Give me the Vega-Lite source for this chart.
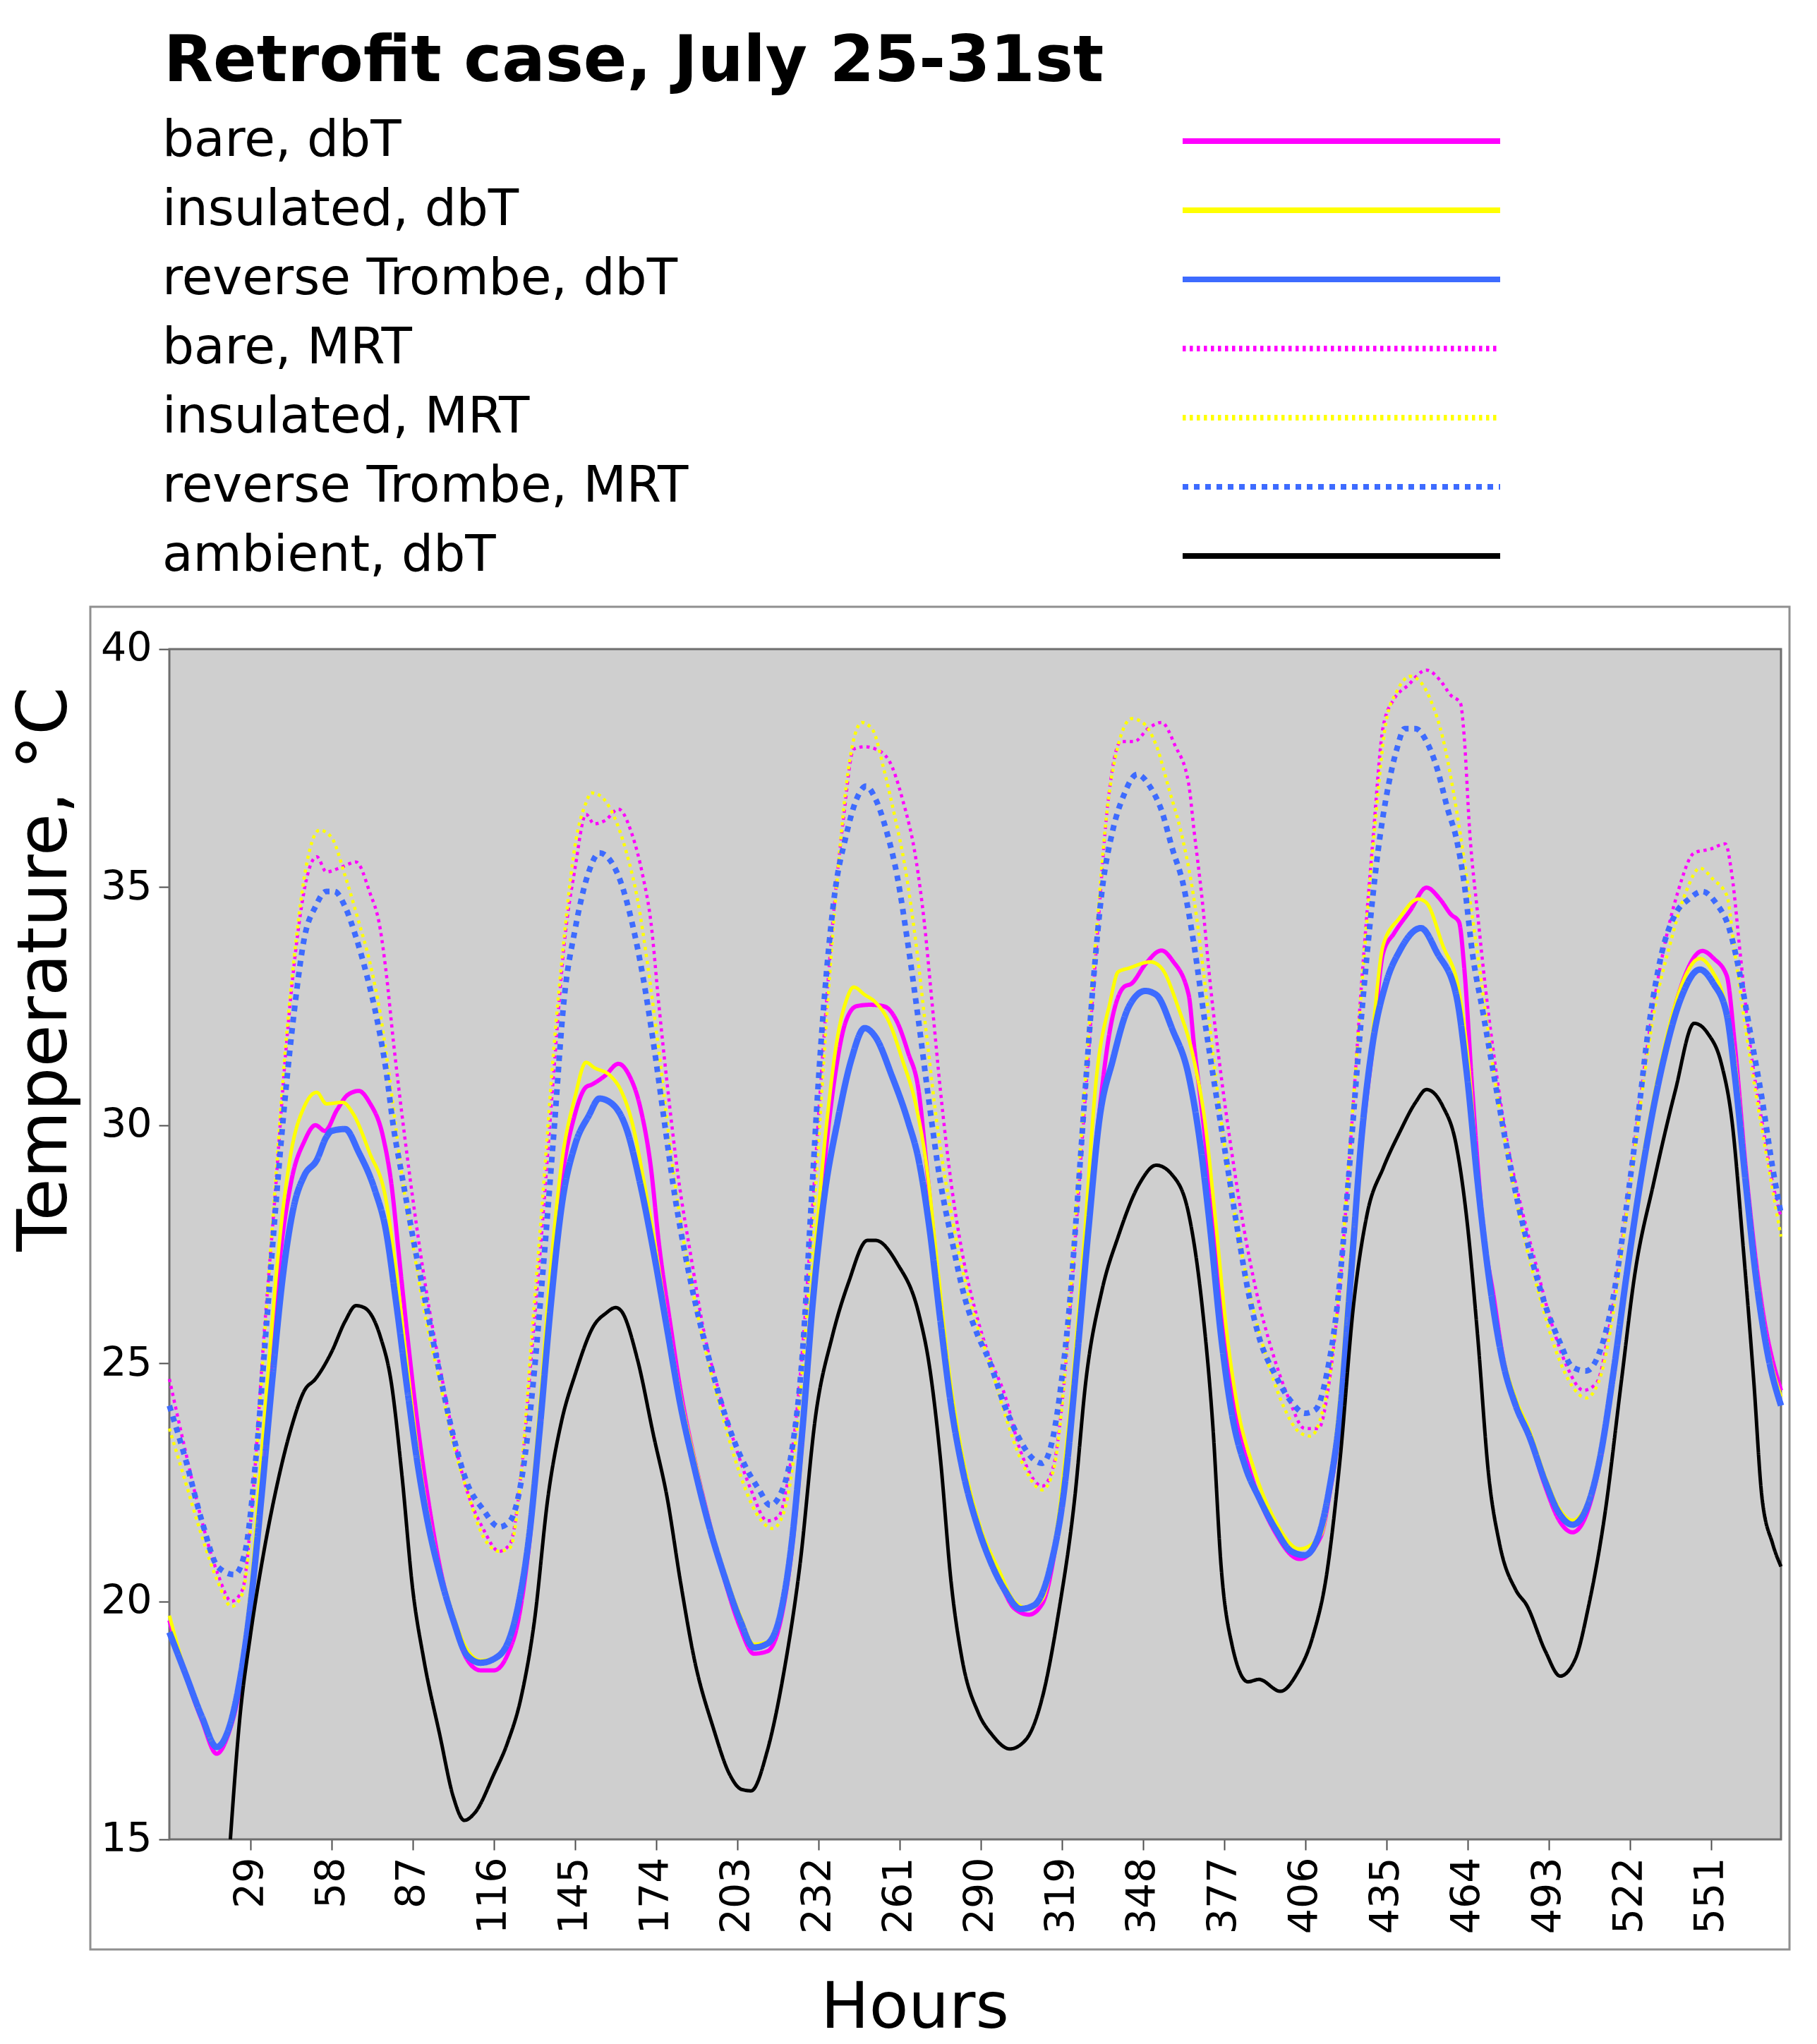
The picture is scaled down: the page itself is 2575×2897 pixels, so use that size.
{
  "$schema": "https://vega.github.io/schema/vega-lite/v6.json",
  "width": 2408,
  "height": 1903,
  "autosize": {"type": "none"},
  "padding": {"left": 128, "top": 860, "right": 39, "bottom": 134},
  "background": "white",
  "title": {
    "text": "Retrofit case, July 25-31st",
    "orient": "none",
    "anchor": "start",
    "frame": "group",
    "font": "DejaVu Sans",
    "fontSize": 91,
    "fontWeight": "bold",
    "color": "black",
    "baseline": "alphabetic",
    "dx": 104,
    "dy": -745
  },
  "layer": [
    {
      "data": {"values": [{}]},
      "mark": {"type": "rect", "fill": "#cfcfcf", "stroke": "#6e6e6e", "strokeWidth": 3},
      "encoding": {
        "x": {"datum": 0, "type": "quantitative", "scale": {"domain": [-28.25, 579.03], "nice": false, "zero": false}},
        "x2": {"datum": 576},
        "y": {"datum": 15, "type": "quantitative", "scale": {"domain": [12.688, 40.889], "nice": false, "zero": false}},
        "y2": {"datum": 40}
      }
    },
    {
      "data": {
        "values": [
          {"s":"bare, dbT","h":0,"t":19.6},{"s":"bare, dbT","h":5.8,"t":18.45},{"s":"bare, dbT","h":11.6,"t":17.5},{"s":"bare, dbT","h":16.9,"t":16.8},{"s":"bare, dbT","h":21.3,"t":17.25},{"s":"bare, dbT","h":25.1,"t":18.15},{"s":"bare, dbT","h":29,"t":19.9},{"s":"bare, dbT","h":32.9,"t":22.5},{"s":"bare, dbT","h":36.7,"t":25.2},{"s":"bare, dbT","h":38.7,"t":26.7},{"s":"bare, dbT","h":43.5,"t":28.8},{"s":"bare, dbT","h":48.3,"t":29.67},{"s":"bare, dbT","h":52.2,"t":30.0},{"s":"bare, dbT","h":55.6,"t":29.88},{"s":"bare, dbT","h":59.9,"t":30.32},{"s":"bare, dbT","h":63.8,"t":30.64},{"s":"bare, dbT","h":67.7,"t":30.72},{"s":"bare, dbT","h":71.5,"t":30.48},{"s":"bare, dbT","h":76.4,"t":29.75},{"s":"bare, dbT","h":79.3,"t":28.79},{"s":"bare, dbT","h":82.2,"t":27.18},{"s":"bare, dbT","h":85.1,"t":25.56},{"s":"bare, dbT","h":88.9,"t":23.63},{"s":"bare, dbT","h":92.8,"t":22.02},{"s":"bare, dbT","h":96.7,"t":20.72},{"s":"bare, dbT","h":101.5,"t":19.6},{"s":"bare, dbT","h":106.3,"t":18.79},{"s":"bare, dbT","h":111.2,"t":18.55},{"s":"bare, dbT","h":116,"t":18.55},{"s":"bare, dbT","h":120.8,"t":18.87},{"s":"bare, dbT","h":124.7,"t":19.6},{"s":"bare, dbT","h":128.6,"t":21.2},{"s":"bare, dbT","h":132.4,"t":23.6},{"s":"bare, dbT","h":136.3,"t":26.4},{"s":"bare, dbT","h":140.2,"t":28.79},{"s":"bare, dbT","h":145,"t":30.24},{"s":"bare, dbT","h":148.9,"t":30.8},{"s":"bare, dbT","h":150.8,"t":30.85},{"s":"bare, dbT","h":155.7,"t":31.04},{"s":"bare, dbT","h":160.5,"t":31.29},{"s":"bare, dbT","h":164.4,"t":31.04},{"s":"bare, dbT","h":168.2,"t":30.4},{"s":"bare, dbT","h":172.1,"t":29.11},{"s":"bare, dbT","h":175,"t":27.5},{"s":"bare, dbT","h":178.9,"t":25.88},{"s":"bare, dbT","h":182.7,"t":24.43},{"s":"bare, dbT","h":187.6,"t":23.0},{"s":"bare, dbT","h":192.4,"t":21.8},{"s":"bare, dbT","h":198.2,"t":20.5},{"s":"bare, dbT","h":204,"t":19.45},{"s":"bare, dbT","h":208.9,"t":18.9},{"s":"bare, dbT","h":213.7,"t":18.95},{"s":"bare, dbT","h":218.5,"t":19.6},{"s":"bare, dbT","h":222.4,"t":21.05},{"s":"bare, dbT","h":226.3,"t":23.47},{"s":"bare, dbT","h":230.1,"t":26.53},{"s":"bare, dbT","h":234,"t":29.11},{"s":"bare, dbT","h":237.9,"t":31.04},{"s":"bare, dbT","h":241.7,"t":32.17},{"s":"bare, dbT","h":245.6,"t":32.5},{"s":"bare, dbT","h":250.4,"t":32.53},{"s":"bare, dbT","h":255.3,"t":32.5},{"s":"bare, dbT","h":260.1,"t":32.17},{"s":"bare, dbT","h":264,"t":31.53},{"s":"bare, dbT","h":267.8,"t":30.72},{"s":"bare, dbT","h":270.7,"t":29.11},{"s":"bare, dbT","h":274.6,"t":26.85},{"s":"bare, dbT","h":278.5,"t":24.76},{"s":"bare, dbT","h":283.3,"t":22.98},{"s":"bare, dbT","h":289.1,"t":21.53},{"s":"bare, dbT","h":296.9,"t":20.4},{"s":"bare, dbT","h":302,"t":19.85},{"s":"bare, dbT","h":307.2,"t":19.72},{"s":"bare, dbT","h":312,"t":19.95},{"s":"bare, dbT","h":316.9,"t":21.21},{"s":"bare, dbT","h":321.7,"t":23.47},{"s":"bare, dbT","h":326.5,"t":26.69},{"s":"bare, dbT","h":331.4,"t":29.75},{"s":"bare, dbT","h":336.2,"t":32.01},{"s":"bare, dbT","h":341.1,"t":32.9},{"s":"bare, dbT","h":344,"t":32.98},{"s":"bare, dbT","h":348.8,"t":33.38},{"s":"bare, dbT","h":354.6,"t":33.67},{"s":"bare, dbT","h":358.5,"t":33.46},{"s":"bare, dbT","h":364.3,"t":32.74},{"s":"bare, dbT","h":366.2,"t":31.69},{"s":"bare, dbT","h":370.1,"t":29.75},{"s":"bare, dbT","h":373.9,"t":27.34},{"s":"bare, dbT","h":377.8,"t":25.24},{"s":"bare, dbT","h":381.7,"t":23.79},{"s":"bare, dbT","h":387.5,"t":22.5},{"s":"bare, dbT","h":395.2,"t":21.45},{"s":"bare, dbT","h":403.9,"t":20.89},{"s":"bare, dbT","h":411.6,"t":21.37},{"s":"bare, dbT","h":414.5,"t":22.2},{"s":"bare, dbT","h":418.4,"t":23.8},{"s":"bare, dbT","h":422.3,"t":26.7},{"s":"bare, dbT","h":426.1,"t":29.6},{"s":"bare, dbT","h":430,"t":31.6},{"s":"bare, dbT","h":433.8,"t":33.62},{"s":"bare, dbT","h":437.7,"t":34.03},{"s":"bare, dbT","h":443.5,"t":34.51},{"s":"bare, dbT","h":449.3,"t":34.99},{"s":"bare, dbT","h":454.1,"t":34.75},{"s":"bare, dbT","h":458,"t":34.43},{"s":"bare, dbT","h":460.9,"t":34.27},{"s":"bare, dbT","h":462.8,"t":33.3},{"s":"bare, dbT","h":465.7,"t":30.72},{"s":"bare, dbT","h":469.6,"t":27.82},{"s":"bare, dbT","h":473.4,"t":26.37},{"s":"bare, dbT","h":476.4,"t":25.2},{"s":"bare, dbT","h":481.2,"t":24.15},{"s":"bare, dbT","h":486,"t":23.45},{"s":"bare, dbT","h":491.8,"t":22.4},{"s":"bare, dbT","h":496.7,"t":21.7},{"s":"bare, dbT","h":501.5,"t":21.45},{"s":"bare, dbT","h":506.3,"t":21.8},{"s":"bare, dbT","h":511.2,"t":22.9},{"s":"bare, dbT","h":516,"t":24.7},{"s":"bare, dbT","h":520.8,"t":26.8},{"s":"bare, dbT","h":526.6,"t":29.1},{"s":"bare, dbT","h":533.4,"t":31.3},{"s":"bare, dbT","h":540.2,"t":32.9},{"s":"bare, dbT","h":547.9,"t":33.66},{"s":"bare, dbT","h":552,"t":33.5},{"s":"bare, dbT","h":556.6,"t":33.14},{"s":"bare, dbT","h":559.5,"t":31.69},{"s":"bare, dbT","h":563.4,"t":29.11},{"s":"bare, dbT","h":569.2,"t":26.21},{"s":"bare, dbT","h":576,"t":24.43},

          {"s":"insulated, dbT","h":0,"t":19.7},{"s":"insulated, dbT","h":5.8,"t":18.5},{"s":"insulated, dbT","h":11.6,"t":17.55},{"s":"insulated, dbT","h":16.9,"t":16.95},{"s":"insulated, dbT","h":21.3,"t":17.35},{"s":"insulated, dbT","h":25.1,"t":18.4},{"s":"insulated, dbT","h":29,"t":20.2},{"s":"insulated, dbT","h":32.9,"t":23.0},{"s":"insulated, dbT","h":36.7,"t":25.8},{"s":"insulated, dbT","h":38.7,"t":27.17},{"s":"insulated, dbT","h":43.5,"t":29.43},{"s":"insulated, dbT","h":48.3,"t":30.4},{"s":"insulated, dbT","h":52.7,"t":30.69},{"s":"insulated, dbT","h":56.1,"t":30.45},{"s":"insulated, dbT","h":61.9,"t":30.48},{"s":"insulated, dbT","h":65.7,"t":30.24},{"s":"insulated, dbT","h":71.5,"t":29.43},{"s":"insulated, dbT","h":77.3,"t":28.47},{"s":"insulated, dbT","h":81.2,"t":26.85},{"s":"insulated, dbT","h":85.1,"t":24.9},{"s":"insulated, dbT","h":88.9,"t":23.1},{"s":"insulated, dbT","h":92.8,"t":21.7},{"s":"insulated, dbT","h":96.7,"t":20.65},{"s":"insulated, dbT","h":101.5,"t":19.7},{"s":"insulated, dbT","h":106.3,"t":19.0},{"s":"insulated, dbT","h":111.2,"t":18.76},{"s":"insulated, dbT","h":116,"t":18.8},{"s":"insulated, dbT","h":120.8,"t":19.15},{"s":"insulated, dbT","h":124.7,"t":19.95},{"s":"insulated, dbT","h":128.6,"t":21.6},{"s":"insulated, dbT","h":132.4,"t":24.1},{"s":"insulated, dbT","h":136.3,"t":27.0},{"s":"insulated, dbT","h":140.2,"t":29.2},{"s":"insulated, dbT","h":145,"t":30.6},{"s":"insulated, dbT","h":148.9,"t":31.32},{"s":"insulated, dbT","h":151.8,"t":31.21},{"s":"insulated, dbT","h":157.6,"t":31.04},{"s":"insulated, dbT","h":161.5,"t":30.72},{"s":"insulated, dbT","h":165.3,"t":30.08},{"s":"insulated, dbT","h":169.2,"t":28.95},{"s":"insulated, dbT","h":173.1,"t":27.66},{"s":"insulated, dbT","h":177.9,"t":25.9},{"s":"insulated, dbT","h":182.7,"t":24.3},{"s":"insulated, dbT","h":187.6,"t":23.0},{"s":"insulated, dbT","h":192.4,"t":21.8},{"s":"insulated, dbT","h":198.2,"t":20.65},{"s":"insulated, dbT","h":204,"t":19.7},{"s":"insulated, dbT","h":208.9,"t":19.1},{"s":"insulated, dbT","h":213.7,"t":19.15},{"s":"insulated, dbT","h":218.5,"t":19.8},{"s":"insulated, dbT","h":222.4,"t":21.3},{"s":"insulated, dbT","h":226.3,"t":23.9},{"s":"insulated, dbT","h":230.1,"t":26.85},{"s":"insulated, dbT","h":235,"t":30.08},{"s":"insulated, dbT","h":238.8,"t":31.85},{"s":"insulated, dbT","h":241.7,"t":32.58},{"s":"insulated, dbT","h":244.6,"t":32.9},{"s":"insulated, dbT","h":248.5,"t":32.74},{"s":"insulated, dbT","h":252.4,"t":32.58},{"s":"insulated, dbT","h":257.2,"t":32.17},{"s":"insulated, dbT","h":262,"t":31.37},{"s":"insulated, dbT","h":266.9,"t":30.4},{"s":"insulated, dbT","h":270.7,"t":29.11},{"s":"insulated, dbT","h":274.6,"t":27.0},{"s":"insulated, dbT","h":278.5,"t":24.9},{"s":"insulated, dbT","h":283.3,"t":23.1},{"s":"insulated, dbT","h":289.1,"t":21.7},{"s":"insulated, dbT","h":296.9,"t":20.6},{"s":"insulated, dbT","h":302,"t":20.0},{"s":"insulated, dbT","h":307.2,"t":19.85},{"s":"insulated, dbT","h":312,"t":20.05},{"s":"insulated, dbT","h":316.9,"t":21.4},{"s":"insulated, dbT","h":321.7,"t":23.9},{"s":"insulated, dbT","h":326.5,"t":27.2},{"s":"insulated, dbT","h":331.4,"t":31.04},{"s":"insulated, dbT","h":336.2,"t":32.58},{"s":"insulated, dbT","h":339.1,"t":33.22},{"s":"insulated, dbT","h":343,"t":33.3},{"s":"insulated, dbT","h":350.7,"t":33.43},{"s":"insulated, dbT","h":354.6,"t":33.3},{"s":"insulated, dbT","h":360.4,"t":32.5},{"s":"insulated, dbT","h":366.2,"t":31.37},{"s":"insulated, dbT","h":370.1,"t":30.08},{"s":"insulated, dbT","h":373.9,"t":28.0},{"s":"insulated, dbT","h":377.8,"t":25.7},{"s":"insulated, dbT","h":381.7,"t":24.1},{"s":"insulated, dbT","h":387.5,"t":22.8},{"s":"insulated, dbT","h":395.2,"t":21.7},{"s":"insulated, dbT","h":403.9,"t":21.1},{"s":"insulated, dbT","h":411.6,"t":21.4},{"s":"insulated, dbT","h":414.5,"t":22.3},{"s":"insulated, dbT","h":418.4,"t":24.3},{"s":"insulated, dbT","h":422.3,"t":27.3},{"s":"insulated, dbT","h":426.1,"t":29.8},{"s":"insulated, dbT","h":430,"t":31.9},{"s":"insulated, dbT","h":433.8,"t":33.78},{"s":"insulated, dbT","h":439.6,"t":34.35},{"s":"insulated, dbT","h":446.4,"t":34.75},{"s":"insulated, dbT","h":449.3,"t":34.67},{"s":"insulated, dbT","h":455.1,"t":33.78},{"s":"insulated, dbT","h":460.9,"t":32.82},{"s":"insulated, dbT","h":464.7,"t":31.04},{"s":"insulated, dbT","h":467.6,"t":28.9},{"s":"insulated, dbT","h":471.5,"t":26.9},{"s":"insulated, dbT","h":476.4,"t":25.2},{"s":"insulated, dbT","h":481.2,"t":24.25},{"s":"insulated, dbT","h":486,"t":23.6},{"s":"insulated, dbT","h":491.8,"t":22.6},{"s":"insulated, dbT","h":496.7,"t":21.95},{"s":"insulated, dbT","h":501.5,"t":21.7},{"s":"insulated, dbT","h":506.3,"t":22.0},{"s":"insulated, dbT","h":511.2,"t":23.1},{"s":"insulated, dbT","h":516,"t":24.9},{"s":"insulated, dbT","h":520.8,"t":27.0},{"s":"insulated, dbT","h":526.6,"t":29.3},{"s":"insulated, dbT","h":533.4,"t":31.4},{"s":"insulated, dbT","h":540.2,"t":32.9},{"s":"insulated, dbT","h":547,"t":33.5},{"s":"insulated, dbT","h":551.8,"t":33.2},{"s":"insulated, dbT","h":555.6,"t":32.66},{"s":"insulated, dbT","h":559.5,"t":31.37},{"s":"insulated, dbT","h":563.4,"t":29.0},{"s":"insulated, dbT","h":567.3,"t":26.9},{"s":"insulated, dbT","h":571.1,"t":25.4},{"s":"insulated, dbT","h":576,"t":24.3},

          {"s":"reverse Trombe, dbT","h":0,"t":19.35},{"s":"reverse Trombe, dbT","h":5.8,"t":18.47},{"s":"reverse Trombe, dbT","h":11.6,"t":17.58},{"s":"reverse Trombe, dbT","h":16.9,"t":16.94},{"s":"reverse Trombe, dbT","h":21.3,"t":17.34},{"s":"reverse Trombe, dbT","h":25.1,"t":18.31},{"s":"reverse Trombe, dbT","h":29,"t":19.92},{"s":"reverse Trombe, dbT","h":32.9,"t":22.18},{"s":"reverse Trombe, dbT","h":36.7,"t":24.6},{"s":"reverse Trombe, dbT","h":40.6,"t":26.85},{"s":"reverse Trombe, dbT","h":44.5,"t":28.3},{"s":"reverse Trombe, dbT","h":48.3,"t":28.95},{"s":"reverse Trombe, dbT","h":52.7,"t":29.27},{"s":"reverse Trombe, dbT","h":56.1,"t":29.75},{"s":"reverse Trombe, dbT","h":58,"t":29.88},{"s":"reverse Trombe, dbT","h":62.8,"t":29.92},{"s":"reverse Trombe, dbT","h":67.7,"t":29.43},{"s":"reverse Trombe, dbT","h":73.5,"t":28.63},{"s":"reverse Trombe, dbT","h":77.3,"t":27.82},{"s":"reverse Trombe, dbT","h":81.2,"t":26.21},{"s":"reverse Trombe, dbT","h":85.1,"t":24.43},{"s":"reverse Trombe, dbT","h":88.9,"t":22.82},{"s":"reverse Trombe, dbT","h":92.8,"t":21.53},{"s":"reverse Trombe, dbT","h":96.7,"t":20.56},{"s":"reverse Trombe, dbT","h":101.5,"t":19.6},{"s":"reverse Trombe, dbT","h":106.3,"t":18.87},{"s":"reverse Trombe, dbT","h":111.2,"t":18.71},{"s":"reverse Trombe, dbT","h":116,"t":18.79},{"s":"reverse Trombe, dbT","h":120.8,"t":19.11},{"s":"reverse Trombe, dbT","h":124.7,"t":19.92},{"s":"reverse Trombe, dbT","h":128.6,"t":21.37},{"s":"reverse Trombe, dbT","h":132.4,"t":23.63},{"s":"reverse Trombe, dbT","h":136.3,"t":26.21},{"s":"reverse Trombe, dbT","h":140.2,"t":28.3},{"s":"reverse Trombe, dbT","h":145,"t":29.59},{"s":"reverse Trombe, dbT","h":149.9,"t":30.2},{"s":"reverse Trombe, dbT","h":153.7,"t":30.56},{"s":"reverse Trombe, dbT","h":158.6,"t":30.43},{"s":"reverse Trombe, dbT","h":163.4,"t":29.92},{"s":"reverse Trombe, dbT","h":168.2,"t":28.79},{"s":"reverse Trombe, dbT","h":173.1,"t":27.33},{"s":"reverse Trombe, dbT","h":177.9,"t":25.72},{"s":"reverse Trombe, dbT","h":182.7,"t":24.11},{"s":"reverse Trombe, dbT","h":187.6,"t":22.82},{"s":"reverse Trombe, dbT","h":192.4,"t":21.69},{"s":"reverse Trombe, dbT","h":198.2,"t":20.56},{"s":"reverse Trombe, dbT","h":204,"t":19.6},{"s":"reverse Trombe, dbT","h":208.9,"t":19.03},{"s":"reverse Trombe, dbT","h":213.7,"t":19.11},{"s":"reverse Trombe, dbT","h":218.5,"t":19.76},{"s":"reverse Trombe, dbT","h":222.4,"t":21.21},{"s":"reverse Trombe, dbT","h":226.3,"t":23.63},{"s":"reverse Trombe, dbT","h":230.1,"t":26.37},{"s":"reverse Trombe, dbT","h":234,"t":28.47},{"s":"reverse Trombe, dbT","h":238.8,"t":30.08},{"s":"reverse Trombe, dbT","h":243.7,"t":31.37},{"s":"reverse Trombe, dbT","h":248.5,"t":32.04},{"s":"reverse Trombe, dbT","h":252.4,"t":31.85},{"s":"reverse Trombe, dbT","h":258.2,"t":31.04},{"s":"reverse Trombe, dbT","h":264,"t":30.08},{"s":"reverse Trombe, dbT","h":267.8,"t":29.27},{"s":"reverse Trombe, dbT","h":271.7,"t":27.82},{"s":"reverse Trombe, dbT","h":275.6,"t":25.88},{"s":"reverse Trombe, dbT","h":279.4,"t":24.11},{"s":"reverse Trombe, dbT","h":283.3,"t":22.82},{"s":"reverse Trombe, dbT","h":289.1,"t":21.53},{"s":"reverse Trombe, dbT","h":293,"t":20.9},{"s":"reverse Trombe, dbT","h":298.5,"t":20.24},{"s":"reverse Trombe, dbT","h":304.3,"t":19.84},{"s":"reverse Trombe, dbT","h":309.1,"t":19.92},{"s":"reverse Trombe, dbT","h":314.9,"t":20.73},{"s":"reverse Trombe, dbT","h":319.8,"t":22.34},{"s":"reverse Trombe, dbT","h":324.6,"t":25.24},{"s":"reverse Trombe, dbT","h":328.5,"t":27.82},{"s":"reverse Trombe, dbT","h":332.3,"t":30.08},{"s":"reverse Trombe, dbT","h":337.2,"t":31.37},{"s":"reverse Trombe, dbT","h":343,"t":32.5},{"s":"reverse Trombe, dbT","h":348.8,"t":32.82},{"s":"reverse Trombe, dbT","h":352.7,"t":32.74},{"s":"reverse Trombe, dbT","h":358.5,"t":32.01},{"s":"reverse Trombe, dbT","h":364.3,"t":31.04},{"s":"reverse Trombe, dbT","h":368.1,"t":29.75},{"s":"reverse Trombe, dbT","h":372,"t":27.82},{"s":"reverse Trombe, dbT","h":375.9,"t":25.56},{"s":"reverse Trombe, dbT","h":379.7,"t":23.95},{"s":"reverse Trombe, dbT","h":384.6,"t":22.82},{"s":"reverse Trombe, dbT","h":389.4,"t":22.18},{"s":"reverse Trombe, dbT","h":395.2,"t":21.53},{"s":"reverse Trombe, dbT","h":401,"t":21.05},{"s":"reverse Trombe, dbT","h":405.8,"t":20.97},{"s":"reverse Trombe, dbT","h":410.7,"t":21.37},{"s":"reverse Trombe, dbT","h":414.5,"t":22.34},{"s":"reverse Trombe, dbT","h":418.4,"t":23.95},{"s":"reverse Trombe, dbT","h":422.3,"t":26.85},{"s":"reverse Trombe, dbT","h":426.1,"t":29.75},{"s":"reverse Trombe, dbT","h":430,"t":31.69},{"s":"reverse Trombe, dbT","h":434.8,"t":32.98},{"s":"reverse Trombe, dbT","h":439.7,"t":33.66},{"s":"reverse Trombe, dbT","h":447.3,"t":34.14},{"s":"reverse Trombe, dbT","h":453.1,"t":33.62},{"s":"reverse Trombe, dbT","h":459.9,"t":32.74},{"s":"reverse Trombe, dbT","h":463.8,"t":31.04},{"s":"reverse Trombe, dbT","h":467.6,"t":28.79},{"s":"reverse Trombe, dbT","h":471.5,"t":26.85},{"s":"reverse Trombe, dbT","h":476.4,"t":25.08},{"s":"reverse Trombe, dbT","h":481.2,"t":24.11},{"s":"reverse Trombe, dbT","h":486,"t":23.47},{"s":"reverse Trombe, dbT","h":491.8,"t":22.5},{"s":"reverse Trombe, dbT","h":496.7,"t":21.85},{"s":"reverse Trombe, dbT","h":501.5,"t":21.61},{"s":"reverse Trombe, dbT","h":506.3,"t":21.93},{"s":"reverse Trombe, dbT","h":511.2,"t":22.98},{"s":"reverse Trombe, dbT","h":516,"t":24.76},{"s":"reverse Trombe, dbT","h":520.8,"t":26.85},{"s":"reverse Trombe, dbT","h":526.6,"t":29.11},{"s":"reverse Trombe, dbT","h":533.4,"t":31.21},{"s":"reverse Trombe, dbT","h":540.2,"t":32.66},{"s":"reverse Trombe, dbT","h":547,"t":33.27},{"s":"reverse Trombe, dbT","h":551.8,"t":32.98},{"s":"reverse Trombe, dbT","h":556.6,"t":32.33},{"s":"reverse Trombe, dbT","h":559.5,"t":31.04},{"s":"reverse Trombe, dbT","h":563.4,"t":28.79},{"s":"reverse Trombe, dbT","h":567.3,"t":26.69},{"s":"reverse Trombe, dbT","h":571.1,"t":25.24},{"s":"reverse Trombe, dbT","h":576,"t":24.11},

          {"s":"bare, MRT","h":0,"t":24.67},{"s":"bare, MRT","h":5.8,"t":23.14},{"s":"bare, MRT","h":11.6,"t":21.69},{"s":"bare, MRT","h":17.4,"t":20.56},{"s":"bare, MRT","h":22.2,"t":20.0},{"s":"bare, MRT","h":26.1,"t":20.24},{"s":"bare, MRT","h":30,"t":22.34},{"s":"bare, MRT","h":33.8,"t":25.56},{"s":"bare, MRT","h":37.7,"t":28.46},{"s":"bare, MRT","h":41.6,"t":31.53},{"s":"bare, MRT","h":45.4,"t":33.79},{"s":"bare, MRT","h":49.3,"t":35.24},{"s":"bare, MRT","h":52.7,"t":35.64},{"s":"bare, MRT","h":56.1,"t":35.32},{"s":"bare, MRT","h":61.9,"t":35.43},{"s":"bare, MRT","h":66.7,"t":35.53},{"s":"bare, MRT","h":71.5,"t":34.91},{"s":"bare, MRT","h":75.4,"t":34.11},{"s":"bare, MRT","h":77.3,"t":33.3},{"s":"bare, MRT","h":80.2,"t":31.69},{"s":"bare, MRT","h":83.1,"t":30.24},{"s":"bare, MRT","h":87,"t":28.46},{"s":"bare, MRT","h":91.8,"t":26.53},{"s":"bare, MRT","h":96.7,"t":24.92},{"s":"bare, MRT","h":101.5,"t":23.47},{"s":"bare, MRT","h":106.3,"t":22.34},{"s":"bare, MRT","h":112.1,"t":21.53},{"s":"bare, MRT","h":117.9,"t":21.05},{"s":"bare, MRT","h":121.8,"t":21.21},{"s":"bare, MRT","h":125.7,"t":22.66},{"s":"bare, MRT","h":129.5,"t":25.24},{"s":"bare, MRT","h":133.4,"t":27.98},{"s":"bare, MRT","h":137.3,"t":31.04},{"s":"bare, MRT","h":141.1,"t":33.79},{"s":"bare, MRT","h":145,"t":35.4},{"s":"bare, MRT","h":148.9,"t":36.53},{"s":"bare, MRT","h":151.8,"t":36.33},{"s":"bare, MRT","h":155.7,"t":36.4},{"s":"bare, MRT","h":160.5,"t":36.64},{"s":"bare, MRT","h":165.3,"t":36.12},{"s":"bare, MRT","h":169.2,"t":35.24},{"s":"bare, MRT","h":172.1,"t":34.27},{"s":"bare, MRT","h":175,"t":32.5},{"s":"bare, MRT","h":177.9,"t":30.88},{"s":"bare, MRT","h":181.8,"t":28.95},{"s":"bare, MRT","h":186.6,"t":27.18},{"s":"bare, MRT","h":191.4,"t":25.56},{"s":"bare, MRT","h":196.3,"t":24.43},{"s":"bare, MRT","h":202.1,"t":23.3},{"s":"bare, MRT","h":207.9,"t":22.34},{"s":"bare, MRT","h":213.7,"t":21.69},{"s":"bare, MRT","h":217.6,"t":21.77},{"s":"bare, MRT","h":221.4,"t":22.66},{"s":"bare, MRT","h":225.3,"t":24.6},{"s":"bare, MRT","h":229.2,"t":27.66},{"s":"bare, MRT","h":233,"t":31.04},{"s":"bare, MRT","h":236.9,"t":34.11},{"s":"bare, MRT","h":240.8,"t":36.37},{"s":"bare, MRT","h":244.6,"t":37.9},{"s":"bare, MRT","h":248.5,"t":37.95},{"s":"bare, MRT","h":252.4,"t":37.9},{"s":"bare, MRT","h":257.2,"t":37.66},{"s":"bare, MRT","h":262,"t":36.85},{"s":"bare, MRT","h":266.9,"t":35.56},{"s":"bare, MRT","h":269.8,"t":34.27},{"s":"bare, MRT","h":272.7,"t":32.5},{"s":"bare, MRT","h":275.6,"t":30.72},{"s":"bare, MRT","h":279.4,"t":28.79},{"s":"bare, MRT","h":283.3,"t":27.34},{"s":"bare, MRT","h":289.1,"t":25.88},{"s":"bare, MRT","h":292.7,"t":25.2},{"s":"bare, MRT","h":298.5,"t":24.35},{"s":"bare, MRT","h":304.3,"t":23.14},{"s":"bare, MRT","h":312,"t":22.42},{"s":"bare, MRT","h":315.9,"t":22.82},{"s":"bare, MRT","h":319.8,"t":24.6},{"s":"bare, MRT","h":323.6,"t":27.5},{"s":"bare, MRT","h":327.5,"t":30.72},{"s":"bare, MRT","h":331.4,"t":33.79},{"s":"bare, MRT","h":335.3,"t":36.69},{"s":"bare, MRT","h":340.1,"t":38.06},{"s":"bare, MRT","h":344.9,"t":38.06},{"s":"bare, MRT","h":349.8,"t":38.33},{"s":"bare, MRT","h":354.6,"t":38.46},{"s":"bare, MRT","h":359.4,"t":37.98},{"s":"bare, MRT","h":364.3,"t":37.17},{"s":"bare, MRT","h":366.2,"t":36.2},{"s":"bare, MRT","h":369.1,"t":34.75},{"s":"bare, MRT","h":372,"t":32.98},{"s":"bare, MRT","h":375.9,"t":31.04},{"s":"bare, MRT","h":379.7,"t":29.43},{"s":"bare, MRT","h":383.6,"t":27.98},{"s":"bare, MRT","h":388.4,"t":26.53},{"s":"bare, MRT","h":394.2,"t":25.24},{"s":"bare, MRT","h":400,"t":24.27},{"s":"bare, MRT","h":405.8,"t":23.63},{"s":"bare, MRT","h":410.7,"t":23.63},{"s":"bare, MRT","h":414.5,"t":24.6},{"s":"bare, MRT","h":418.4,"t":26.69},{"s":"bare, MRT","h":422.3,"t":29.75},{"s":"bare, MRT","h":426.1,"t":32.98},{"s":"bare, MRT","h":430,"t":35.88},{"s":"bare, MRT","h":433.9,"t":38.4},{"s":"bare, MRT","h":437.7,"t":38.95},{"s":"bare, MRT","h":442.5,"t":39.23},{"s":"bare, MRT","h":449.3,"t":39.56},{"s":"bare, MRT","h":454.1,"t":39.35},{"s":"bare, MRT","h":458,"t":39.03},{"s":"bare, MRT","h":461.4,"t":38.87},{"s":"bare, MRT","h":462.8,"t":38.14},{"s":"bare, MRT","h":464.7,"t":36.2},{"s":"bare, MRT","h":467.6,"t":34.43},{"s":"bare, MRT","h":470.5,"t":32.82},{"s":"bare, MRT","h":474.4,"t":31.04},{"s":"bare, MRT","h":478.3,"t":29.59},{"s":"bare, MRT","h":483.1,"t":28.3},{"s":"bare, MRT","h":488,"t":27.17},{"s":"bare, MRT","h":493.8,"t":25.88},{"s":"bare, MRT","h":499.6,"t":24.92},{"s":"bare, MRT","h":505.4,"t":24.43},{"s":"bare, MRT","h":510.2,"t":24.6},{"s":"bare, MRT","h":515,"t":25.88},{"s":"bare, MRT","h":519.9,"t":27.82},{"s":"bare, MRT","h":524.7,"t":30.08},{"s":"bare, MRT","h":529.5,"t":32.17},{"s":"bare, MRT","h":534.4,"t":33.79},{"s":"bare, MRT","h":539.2,"t":34.91},{"s":"bare, MRT","h":545,"t":35.72},{"s":"bare, MRT","h":550.8,"t":35.8},{"s":"bare, MRT","h":556.1,"t":35.91},{"s":"bare, MRT","h":558.5,"t":35.24},{"s":"bare, MRT","h":561.4,"t":33.62},{"s":"bare, MRT","h":565.3,"t":31.53},{"s":"bare, MRT","h":569.2,"t":30.08},{"s":"bare, MRT","h":573,"t":28.79},{"s":"bare, MRT","h":576,"t":28.06},

          {"s":"insulated, MRT","h":0,"t":23.63},{"s":"insulated, MRT","h":5.8,"t":22.5},{"s":"insulated, MRT","h":11.6,"t":21.37},{"s":"insulated, MRT","h":17.4,"t":20.4},{"s":"insulated, MRT","h":22.2,"t":19.89},{"s":"insulated, MRT","h":26.1,"t":20.16},{"s":"insulated, MRT","h":30,"t":22.18},{"s":"insulated, MRT","h":33.8,"t":25.4},{"s":"insulated, MRT","h":37.7,"t":28.63},{"s":"insulated, MRT","h":41.6,"t":31.69},{"s":"insulated, MRT","h":45.4,"t":33.95},{"s":"insulated, MRT","h":49.3,"t":35.56},{"s":"insulated, MRT","h":53.7,"t":36.2},{"s":"insulated, MRT","h":58,"t":36.04},{"s":"insulated, MRT","h":62.8,"t":35.24},{"s":"insulated, MRT","h":67.7,"t":34.27},{"s":"insulated, MRT","h":71.5,"t":33.46},{"s":"insulated, MRT","h":75.4,"t":32.33},{"s":"insulated, MRT","h":79.3,"t":30.72},{"s":"insulated, MRT","h":83.1,"t":28.95},{"s":"insulated, MRT","h":87,"t":27.5},{"s":"insulated, MRT","h":91.8,"t":25.88},{"s":"insulated, MRT","h":96.7,"t":24.6},{"s":"insulated, MRT","h":101.5,"t":23.3},{"s":"insulated, MRT","h":106.3,"t":22.34},{"s":"insulated, MRT","h":112.1,"t":21.37},{"s":"insulated, MRT","h":117.9,"t":21.05},{"s":"insulated, MRT","h":121.8,"t":21.13},{"s":"insulated, MRT","h":125.7,"t":22.66},{"s":"insulated, MRT","h":129.5,"t":25.56},{"s":"insulated, MRT","h":133.4,"t":28.46},{"s":"insulated, MRT","h":137.3,"t":31.53},{"s":"insulated, MRT","h":141.1,"t":33.95},{"s":"insulated, MRT","h":145,"t":35.88},{"s":"insulated, MRT","h":148.9,"t":36.77},{"s":"insulated, MRT","h":150.8,"t":36.98},{"s":"insulated, MRT","h":153.7,"t":36.93},{"s":"insulated, MRT","h":158.6,"t":36.53},{"s":"insulated, MRT","h":163.4,"t":35.72},{"s":"insulated, MRT","h":167.3,"t":34.75},{"s":"insulated, MRT","h":171.1,"t":33.3},{"s":"insulated, MRT","h":175,"t":31.53},{"s":"insulated, MRT","h":178.9,"t":29.59},{"s":"insulated, MRT","h":182.7,"t":27.98},{"s":"insulated, MRT","h":187.6,"t":26.37},{"s":"insulated, MRT","h":192.4,"t":25.08},{"s":"insulated, MRT","h":198.2,"t":23.79},{"s":"insulated, MRT","h":204,"t":22.66},{"s":"insulated, MRT","h":209.8,"t":21.85},{"s":"insulated, MRT","h":215.6,"t":21.53},{"s":"insulated, MRT","h":219.5,"t":21.85},{"s":"insulated, MRT","h":223.4,"t":23.14},{"s":"insulated, MRT","h":227.2,"t":25.56},{"s":"insulated, MRT","h":231.1,"t":28.79},{"s":"insulated, MRT","h":235,"t":32.33},{"s":"insulated, MRT","h":238.8,"t":35.24},{"s":"insulated, MRT","h":242.7,"t":37.49},{"s":"insulated, MRT","h":247.5,"t":38.46},{"s":"insulated, MRT","h":251.4,"t":38.3},{"s":"insulated, MRT","h":255.3,"t":37.49},{"s":"insulated, MRT","h":259.1,"t":36.53},{"s":"insulated, MRT","h":263,"t":35.4},{"s":"insulated, MRT","h":266.9,"t":33.79},{"s":"insulated, MRT","h":270.7,"t":31.85},{"s":"insulated, MRT","h":274.6,"t":29.92},{"s":"insulated, MRT","h":278.5,"t":28.46},{"s":"insulated, MRT","h":283.3,"t":27.01},{"s":"insulated, MRT","h":289.1,"t":25.72},{"s":"insulated, MRT","h":292.7,"t":25.1},{"s":"insulated, MRT","h":298.5,"t":23.95},{"s":"insulated, MRT","h":304.3,"t":22.98},{"s":"insulated, MRT","h":312,"t":22.34},{"s":"insulated, MRT","h":315.9,"t":22.74},{"s":"insulated, MRT","h":319.8,"t":24.6},{"s":"insulated, MRT","h":323.6,"t":27.82},{"s":"insulated, MRT","h":327.5,"t":31.04},{"s":"insulated, MRT","h":331.4,"t":34.11},{"s":"insulated, MRT","h":335.3,"t":36.69},{"s":"insulated, MRT","h":339.1,"t":37.98},{"s":"insulated, MRT","h":344,"t":38.54},{"s":"insulated, MRT","h":347.8,"t":38.46},{"s":"insulated, MRT","h":352.7,"t":37.98},{"s":"insulated, MRT","h":357.5,"t":37.01},{"s":"insulated, MRT","h":361.4,"t":36.2},{"s":"insulated, MRT","h":366.2,"t":34.75},{"s":"insulated, MRT","h":370.1,"t":32.98},{"s":"insulated, MRT","h":373.9,"t":31.04},{"s":"insulated, MRT","h":377.8,"t":29.27},{"s":"insulated, MRT","h":381.7,"t":27.82},{"s":"insulated, MRT","h":386.5,"t":26.37},{"s":"insulated, MRT","h":392.3,"t":25.08},{"s":"insulated, MRT","h":398.1,"t":24.11},{"s":"insulated, MRT","h":403.9,"t":23.55},{"s":"insulated, MRT","h":407.8,"t":23.47},{"s":"insulated, MRT","h":411.6,"t":23.87},{"s":"insulated, MRT","h":415.5,"t":25.08},{"s":"insulated, MRT","h":419.4,"t":27.5},{"s":"insulated, MRT","h":423.2,"t":30.56},{"s":"insulated, MRT","h":427.1,"t":33.62},{"s":"insulated, MRT","h":431,"t":36.37},{"s":"insulated, MRT","h":434.8,"t":38.46},{"s":"insulated, MRT","h":438.7,"t":39.11},{"s":"insulated, MRT","h":443.5,"t":39.43},{"s":"insulated, MRT","h":447.3,"t":39.3},{"s":"insulated, MRT","h":451.2,"t":38.87},{"s":"insulated, MRT","h":455.1,"t":38.14},{"s":"insulated, MRT","h":458.9,"t":37.01},{"s":"insulated, MRT","h":462.8,"t":35.56},{"s":"insulated, MRT","h":466.7,"t":33.95},{"s":"insulated, MRT","h":470.5,"t":32.33},{"s":"insulated, MRT","h":474.4,"t":30.72},{"s":"insulated, MRT","h":479.2,"t":29.11},{"s":"insulated, MRT","h":484.1,"t":27.66},{"s":"insulated, MRT","h":489.9,"t":26.37},{"s":"insulated, MRT","h":495.7,"t":25.24},{"s":"insulated, MRT","h":501.5,"t":24.51},{"s":"insulated, MRT","h":506.3,"t":24.27},{"s":"insulated, MRT","h":511.2,"t":24.67},{"s":"insulated, MRT","h":516,"t":26.05},{"s":"insulated, MRT","h":520.8,"t":28.14},{"s":"insulated, MRT","h":525.7,"t":30.4},{"s":"insulated, MRT","h":530.5,"t":32.33},{"s":"insulated, MRT","h":536.3,"t":33.79},{"s":"insulated, MRT","h":542.1,"t":34.91},{"s":"insulated, MRT","h":547,"t":35.4},{"s":"insulated, MRT","h":551.8,"t":35.16},{"s":"insulated, MRT","h":556.6,"t":34.83},{"s":"insulated, MRT","h":559.5,"t":33.62},{"s":"insulated, MRT","h":563.4,"t":32.01},{"s":"insulated, MRT","h":567.3,"t":30.56},{"s":"insulated, MRT","h":571.1,"t":29.27},{"s":"insulated, MRT","h":576,"t":27.66},

          {"s":"reverse Trombe, MRT","h":0,"t":24.11},{"s":"reverse Trombe, MRT","h":5.8,"t":22.98},{"s":"reverse Trombe, MRT","h":11.6,"t":21.69},{"s":"reverse Trombe, MRT","h":17.4,"t":20.72},{"s":"reverse Trombe, MRT","h":23.2,"t":20.56},{"s":"reverse Trombe, MRT","h":27.1,"t":21.05},{"s":"reverse Trombe, MRT","h":30.9,"t":22.98},{"s":"reverse Trombe, MRT","h":34.8,"t":25.88},{"s":"reverse Trombe, MRT","h":38.7,"t":28.79},{"s":"reverse Trombe, MRT","h":41.6,"t":30.72},{"s":"reverse Trombe, MRT","h":44.5,"t":32.33},{"s":"reverse Trombe, MRT","h":48.3,"t":33.95},{"s":"reverse Trombe, MRT","h":52.2,"t":34.59},{"s":"reverse Trombe, MRT","h":56.1,"t":34.91},{"s":"reverse Trombe, MRT","h":59,"t":34.91},{"s":"reverse Trombe, MRT","h":62.8,"t":34.59},{"s":"reverse Trombe, MRT","h":66.7,"t":33.95},{"s":"reverse Trombe, MRT","h":70.6,"t":33.14},{"s":"reverse Trombe, MRT","h":74.4,"t":32.17},{"s":"reverse Trombe, MRT","h":77.3,"t":31.21},{"s":"reverse Trombe, MRT","h":80.2,"t":29.92},{"s":"reverse Trombe, MRT","h":83.1,"t":28.95},{"s":"reverse Trombe, MRT","h":87,"t":27.66},{"s":"reverse Trombe, MRT","h":91.8,"t":26.21},{"s":"reverse Trombe, MRT","h":96.7,"t":24.76},{"s":"reverse Trombe, MRT","h":101.5,"t":23.47},{"s":"reverse Trombe, MRT","h":106.3,"t":22.5},{"s":"reverse Trombe, MRT","h":112.1,"t":21.93},{"s":"reverse Trombe, MRT","h":117.9,"t":21.56},{"s":"reverse Trombe, MRT","h":121.8,"t":21.69},{"s":"reverse Trombe, MRT","h":125.7,"t":22.5},{"s":"reverse Trombe, MRT","h":129.5,"t":24.27},{"s":"reverse Trombe, MRT","h":133.4,"t":26.85},{"s":"reverse Trombe, MRT","h":137.3,"t":29.75},{"s":"reverse Trombe, MRT","h":141.1,"t":32.66},{"s":"reverse Trombe, MRT","h":145,"t":34.11},{"s":"reverse Trombe, MRT","h":149.9,"t":35.32},{"s":"reverse Trombe, MRT","h":153.7,"t":35.72},{"s":"reverse Trombe, MRT","h":157.6,"t":35.56},{"s":"reverse Trombe, MRT","h":161.5,"t":35.08},{"s":"reverse Trombe, MRT","h":165.3,"t":34.27},{"s":"reverse Trombe, MRT","h":169.2,"t":33.14},{"s":"reverse Trombe, MRT","h":173.1,"t":31.69},{"s":"reverse Trombe, MRT","h":176.9,"t":30.08},{"s":"reverse Trombe, MRT","h":180.8,"t":28.46},{"s":"reverse Trombe, MRT","h":184.7,"t":27.18},{"s":"reverse Trombe, MRT","h":189.5,"t":25.88},{"s":"reverse Trombe, MRT","h":194.4,"t":24.76},{"s":"reverse Trombe, MRT","h":200.2,"t":23.63},{"s":"reverse Trombe, MRT","h":206,"t":22.82},{"s":"reverse Trombe, MRT","h":210.8,"t":22.34},{"s":"reverse Trombe, MRT","h":214.7,"t":22.02},{"s":"reverse Trombe, MRT","h":218.5,"t":22.26},{"s":"reverse Trombe, MRT","h":222.4,"t":23.14},{"s":"reverse Trombe, MRT","h":226.3,"t":25.24},{"s":"reverse Trombe, MRT","h":229.2,"t":28.14},{"s":"reverse Trombe, MRT","h":232.1,"t":31.04},{"s":"reverse Trombe, MRT","h":235,"t":33.3},{"s":"reverse Trombe, MRT","h":237.9,"t":34.91},{"s":"reverse Trombe, MRT","h":241.7,"t":36.04},{"s":"reverse Trombe, MRT","h":245.6,"t":36.85},{"s":"reverse Trombe, MRT","h":249,"t":37.12},{"s":"reverse Trombe, MRT","h":252.4,"t":36.85},{"s":"reverse Trombe, MRT","h":256.2,"t":36.2},{"s":"reverse Trombe, MRT","h":260.1,"t":35.24},{"s":"reverse Trombe, MRT","h":264,"t":33.79},{"s":"reverse Trombe, MRT","h":267.8,"t":32.17},{"s":"reverse Trombe, MRT","h":271.7,"t":30.4},{"s":"reverse Trombe, MRT","h":275.6,"t":28.79},{"s":"reverse Trombe, MRT","h":279.4,"t":27.66},{"s":"reverse Trombe, MRT","h":284.3,"t":26.37},{"s":"reverse Trombe, MRT","h":289.1,"t":25.56},{"s":"reverse Trombe, MRT","h":292.7,"t":25.1},{"s":"reverse Trombe, MRT","h":298.5,"t":24.11},{"s":"reverse Trombe, MRT","h":303.3,"t":23.47},{"s":"reverse Trombe, MRT","h":308.2,"t":23.02},{"s":"reverse Trombe, MRT","h":312,"t":22.9},{"s":"reverse Trombe, MRT","h":315.9,"t":23.47},{"s":"reverse Trombe, MRT","h":318.8,"t":24.6},{"s":"reverse Trombe, MRT","h":321.7,"t":26.21},{"s":"reverse Trombe, MRT","h":324.6,"t":28.46},{"s":"reverse Trombe, MRT","h":327.5,"t":30.88},{"s":"reverse Trombe, MRT","h":330.4,"t":33.14},{"s":"reverse Trombe, MRT","h":333.3,"t":34.91},{"s":"reverse Trombe, MRT","h":337.2,"t":36.2},{"s":"reverse Trombe, MRT","h":341.1,"t":36.93},{"s":"reverse Trombe, MRT","h":345.9,"t":37.37},{"s":"reverse Trombe, MRT","h":350.7,"t":37.09},{"s":"reverse Trombe, MRT","h":354.6,"t":36.61},{"s":"reverse Trombe, MRT","h":358.5,"t":35.8},{"s":"reverse Trombe, MRT","h":362.3,"t":35.07},{"s":"reverse Trombe, MRT","h":366.2,"t":33.79},{"s":"reverse Trombe, MRT","h":370.1,"t":32.17},{"s":"reverse Trombe, MRT","h":373.9,"t":30.72},{"s":"reverse Trombe, MRT","h":377.8,"t":29.27},{"s":"reverse Trombe, MRT","h":381.7,"t":27.82},{"s":"reverse Trombe, MRT","h":385.5,"t":26.53},{"s":"reverse Trombe, MRT","h":389.4,"t":25.56},{"s":"reverse Trombe, MRT","h":395.2,"t":24.76},{"s":"reverse Trombe, MRT","h":401,"t":24.19},{"s":"reverse Trombe, MRT","h":405.8,"t":23.95},{"s":"reverse Trombe, MRT","h":409.7,"t":24.03},{"s":"reverse Trombe, MRT","h":413.6,"t":24.76},{"s":"reverse Trombe, MRT","h":417.4,"t":26.21},{"s":"reverse Trombe, MRT","h":421.3,"t":28.79},{"s":"reverse Trombe, MRT","h":425.2,"t":31.69},{"s":"reverse Trombe, MRT","h":428.1,"t":33.62},{"s":"reverse Trombe, MRT","h":431.9,"t":35.72},{"s":"reverse Trombe, MRT","h":435.8,"t":37.17},{"s":"reverse Trombe, MRT","h":438.7,"t":37.9},{"s":"reverse Trombe, MRT","h":441.5,"t":38.33},{"s":"reverse Trombe, MRT","h":445.4,"t":38.33},{"s":"reverse Trombe, MRT","h":449.3,"t":38.06},{"s":"reverse Trombe, MRT","h":453.1,"t":37.49},{"s":"reverse Trombe, MRT","h":457,"t":36.61},{"s":"reverse Trombe, MRT","h":459.9,"t":36.04},{"s":"reverse Trombe, MRT","h":462.8,"t":35.07},{"s":"reverse Trombe, MRT","h":465.7,"t":33.62},{"s":"reverse Trombe, MRT","h":469.6,"t":32.33},{"s":"reverse Trombe, MRT","h":473.4,"t":31.04},{"s":"reverse Trombe, MRT","h":477.3,"t":29.75},{"s":"reverse Trombe, MRT","h":482.2,"t":28.3},{"s":"reverse Trombe, MRT","h":487,"t":27.17},{"s":"reverse Trombe, MRT","h":491.8,"t":26.21},{"s":"reverse Trombe, MRT","h":496.7,"t":25.48},{"s":"reverse Trombe, MRT","h":501.5,"t":24.92},{"s":"reverse Trombe, MRT","h":506.3,"t":24.84},{"s":"reverse Trombe, MRT","h":511.2,"t":25.24},{"s":"reverse Trombe, MRT","h":516,"t":26.37},{"s":"reverse Trombe, MRT","h":520.8,"t":28.3},{"s":"reverse Trombe, MRT","h":524.7,"t":30.08},{"s":"reverse Trombe, MRT","h":528.6,"t":32.01},{"s":"reverse Trombe, MRT","h":533.4,"t":33.62},{"s":"reverse Trombe, MRT","h":538.2,"t":34.43},{"s":"reverse Trombe, MRT","h":543.1,"t":34.75},{"s":"reverse Trombe, MRT","h":547.9,"t":34.91},{"s":"reverse Trombe, MRT","h":552.7,"t":34.67},{"s":"reverse Trombe, MRT","h":557.6,"t":34.11},{"s":"reverse Trombe, MRT","h":561.4,"t":33.14},{"s":"reverse Trombe, MRT","h":565.3,"t":31.85},{"s":"reverse Trombe, MRT","h":569.2,"t":30.56},{"s":"reverse Trombe, MRT","h":573,"t":29.11},{"s":"reverse Trombe, MRT","h":576,"t":28.14},

          {"s":"ambient, dbT","h":21.8,"t":15.0},{"s":"ambient, dbT","h":25.1,"t":17.5},{"s":"ambient, dbT","h":29,"t":19.3},{"s":"ambient, dbT","h":33.8,"t":21.05},{"s":"ambient, dbT","h":38.7,"t":22.5},{"s":"ambient, dbT","h":43.5,"t":23.63},{"s":"ambient, dbT","h":48.3,"t":24.43},{"s":"ambient, dbT","h":52.2,"t":24.67},{"s":"ambient, dbT","h":58,"t":25.24},{"s":"ambient, dbT","h":62.8,"t":25.88},{"s":"ambient, dbT","h":66.7,"t":26.21},{"s":"ambient, dbT","h":69.6,"t":26.17},{"s":"ambient, dbT","h":75.4,"t":25.56},{"s":"ambient, dbT","h":79.3,"t":24.6},{"s":"ambient, dbT","h":83.1,"t":22.66},{"s":"ambient, dbT","h":87,"t":20.24},{"s":"ambient, dbT","h":90.9,"t":18.79},{"s":"ambient, dbT","h":96.7,"t":17.18},{"s":"ambient, dbT","h":101.5,"t":15.89},{"s":"ambient, dbT","h":105.4,"t":15.4},{"s":"ambient, dbT","h":109.2,"t":15.56},{"s":"ambient, dbT","h":116,"t":16.37},{"s":"ambient, dbT","h":120.8,"t":17.02},{"s":"ambient, dbT","h":125.7,"t":17.98},{"s":"ambient, dbT","h":130.5,"t":19.6},{"s":"ambient, dbT","h":135.3,"t":22.18},{"s":"ambient, dbT","h":140.2,"t":23.79},{"s":"ambient, dbT","h":145,"t":24.76},{"s":"ambient, dbT","h":151.8,"t":25.8},{"s":"ambient, dbT","h":156,"t":26.05},{"s":"ambient, dbT","h":159.5,"t":26.17},{"s":"ambient, dbT","h":161.5,"t":26.1},{"s":"ambient, dbT","h":167.3,"t":25.08},{"s":"ambient, dbT","h":173.1,"t":23.47},{"s":"ambient, dbT","h":177.9,"t":22.18},{"s":"ambient, dbT","h":182.7,"t":20.4},{"s":"ambient, dbT","h":187.6,"t":18.79},{"s":"ambient, dbT","h":194.4,"t":17.34},{"s":"ambient, dbT","h":200.2,"t":16.37},{"s":"ambient, dbT","h":204.5,"t":16.05},{"s":"ambient, dbT","h":207.9,"t":16.02},{"s":"ambient, dbT","h":213.7,"t":16.86},{"s":"ambient, dbT","h":219.5,"t":18.47},{"s":"ambient, dbT","h":225.3,"t":20.73},{"s":"ambient, dbT","h":231.1,"t":23.95},{"s":"ambient, dbT","h":236.9,"t":25.56},{"s":"ambient, dbT","h":242.7,"t":26.69},{"s":"ambient, dbT","h":249.5,"t":27.58},{"s":"ambient, dbT","h":252.4,"t":27.58},{"s":"ambient, dbT","h":260.1,"t":27.1},{"s":"ambient, dbT","h":267.8,"t":26.05},{"s":"ambient, dbT","h":271.7,"t":24.92},{"s":"ambient, dbT","h":275.6,"t":22.98},{"s":"ambient, dbT","h":279.4,"t":20.4},{"s":"ambient, dbT","h":283.3,"t":18.79},{"s":"ambient, dbT","h":289.1,"t":17.66},{"s":"ambient, dbT","h":294,"t":17.2},{"s":"ambient, dbT","h":300.4,"t":16.9},{"s":"ambient, dbT","h":306.2,"t":17.1},{"s":"ambient, dbT","h":312,"t":17.98},{"s":"ambient, dbT","h":317.8,"t":19.76},{"s":"ambient, dbT","h":323.6,"t":22.18},{"s":"ambient, dbT","h":327.5,"t":24.6},{"s":"ambient, dbT","h":333.3,"t":26.53},{"s":"ambient, dbT","h":339.1,"t":27.66},{"s":"ambient, dbT","h":346.9,"t":28.79},{"s":"ambient, dbT","h":352.7,"t":29.16},{"s":"ambient, dbT","h":358.5,"t":28.95},{"s":"ambient, dbT","h":364.3,"t":28.14},{"s":"ambient, dbT","h":369.1,"t":26.21},{"s":"ambient, dbT","h":373,"t":23.63},{"s":"ambient, dbT","h":375.9,"t":20.73},{"s":"ambient, dbT","h":379.7,"t":19.11},{"s":"ambient, dbT","h":385.5,"t":18.31},{"s":"ambient, dbT","h":389.4,"t":18.36},{"s":"ambient, dbT","h":397.1,"t":18.11},{"s":"ambient, dbT","h":402.9,"t":18.47},{"s":"ambient, dbT","h":408.7,"t":19.27},{"s":"ambient, dbT","h":413.6,"t":20.56},{"s":"ambient, dbT","h":418.4,"t":22.98},{"s":"ambient, dbT","h":423.2,"t":26.21},{"s":"ambient, dbT","h":428.1,"t":28.14},{"s":"ambient, dbT","h":433.9,"t":29.11},{"s":"ambient, dbT","h":439.7,"t":29.85},{"s":"ambient, dbT","h":445.4,"t":30.48},{"s":"ambient, dbT","h":449.3,"t":30.75},{"s":"ambient, dbT","h":455.1,"t":30.4},{"s":"ambient, dbT","h":459.9,"t":29.59},{"s":"ambient, dbT","h":463.8,"t":27.98},{"s":"ambient, dbT","h":467.6,"t":25.56},{"s":"ambient, dbT","h":471.5,"t":22.66},{"s":"ambient, dbT","h":475.4,"t":21.21},{"s":"ambient, dbT","h":481.2,"t":20.24},{"s":"ambient, dbT","h":485.1,"t":19.92},{"s":"ambient, dbT","h":491.8,"t":18.95},{"s":"ambient, dbT","h":497.1,"t":18.43},{"s":"ambient, dbT","h":502.5,"t":18.79},{"s":"ambient, dbT","h":507.3,"t":19.92},{"s":"ambient, dbT","h":513.1,"t":21.85},{"s":"ambient, dbT","h":518.9,"t":24.6},{"s":"ambient, dbT","h":523.7,"t":26.85},{"s":"ambient, dbT","h":530.5,"t":28.79},{"s":"ambient, dbT","h":538.2,"t":30.72},{"s":"ambient, dbT","h":545,"t":32.14},{"s":"ambient, dbT","h":549.8,"t":31.93},{"s":"ambient, dbT","h":554.7,"t":31.29},{"s":"ambient, dbT","h":558.5,"t":30.08},{"s":"ambient, dbT","h":562.4,"t":27.5},{"s":"ambient, dbT","h":566.3,"t":24.6},{"s":"ambient, dbT","h":569.2,"t":22.18},{"s":"ambient, dbT","h":573,"t":21.21},{"s":"ambient, dbT","h":576,"t":20.73}
        ]
      },
      "mark": {"type": "line", "interpolate": "monotone", "strokeJoin": "round"},
      "encoding": {
        "x": {
          "field": "h",
          "type": "quantitative",
          "scale": {"domain": [-28.25, 579.03], "nice": false, "zero": false},
          "axis": {
            "values": [29, 58, 87, 116, 145, 174, 203, 232, 261, 290, 319, 348, 377, 406, 435, 464, 493, 522, 551],
            "format": "d",
            "offset": -156,
            "domain": false,
            "grid": false,
            "tickSize": 15,
            "tickWidth": 2,
            "tickColor": "#4d4d4d",
            "labelAngle": 270,
            "labelFont": "DejaVu Sans",
            "labelFontSize": 57,
            "labelColor": "black",
            "labelPadding": 10,
            "labelOverlap": false,
            "labelFlush": false,
            "labelBound": false,
            "title": "Hours",
            "titleFont": "DejaVu Sans",
            "titleFontSize": 91,
            "titleFontWeight": "normal",
            "titleColor": "black",
            "titleX": 1168,
            "titleY": 266,
            "titleAlign": "center",
            "titleBaseline": "alphabetic"
          }
        },
        "y": {
          "field": "t",
          "type": "quantitative",
          "scale": {"domain": [12.688, 40.889], "nice": false, "zero": false},
          "axis": {
            "values": [15, 20, 25, 30, 35, 40],
            "format": "d",
            "offset": -112,
            "domain": false,
            "grid": false,
            "tickSize": 15,
            "tickWidth": 2,
            "tickColor": "#4d4d4d",
            "labelFont": "DejaVu Sans",
            "labelFontSize": 57,
            "labelColor": "black",
            "labelPadding": 10,
            "labelOverlap": false,
            "labelFlush": false,
            "labelBound": false,
            "title": "Temperature, °C",
            "titleFont": "DejaVu Sans",
            "titleFontSize": 98,
            "titleFontWeight": "normal",
            "titleColor": "black",
            "titleX": -147,
            "titleY": 513,
            "titleAngle": 270,
            "titleAlign": "center",
            "titleBaseline": "alphabetic"
          }
        },
        "color": {
          "field": "s",
          "type": "nominal",
          "scale": {
            "domain": ["bare, dbT", "insulated, dbT", "reverse Trombe, dbT", "bare, MRT", "insulated, MRT", "reverse Trombe, MRT", "ambient, dbT"],
            "range": ["#ff00ff", "#ffff00", "#3d6bff", "#ff00ff", "#ffff00", "#3d6bff", "#000000"]
          },
          "legend": {
            "title": null,
            "orient": "none",
            "legendX": 1724,
            "legendY": -709,
            "padding": 0,
            "symbolType": "M-5,0H5",
            "symbolSize": 8100,
            "symbolStrokeWidth": 8,
            "labelFont": "DejaVu Sans",
            "labelFontSize": 71,
            "labelColor": "black",
            "labelLimit": 2000,
            "labelOffset": -1720,
            "rowPadding": 14
          }
        },
        "strokeDash": {
          "field": "s",
          "type": "nominal",
          "scale": {
            "domain": ["bare, dbT", "insulated, dbT", "reverse Trombe, dbT", "bare, MRT", "insulated, MRT", "reverse Trombe, MRT", "ambient, dbT"],
            "range": [[1, 0], [1, 0], [1, 0], [4.5, 5.5], [4.5, 5.5], [8, 8], [1, 0]]
          },
          "legend": null
        },
        "strokeWidth": {
          "condition": [
            {"test": "datum.s === 'reverse Trombe, dbT'", "value": 9},
            {"test": "datum.s === 'bare, dbT'", "value": 6},
            {"test": "datum.s === 'reverse Trombe, MRT'", "value": 8},
            {"test": "indexof(datum.s, 'MRT') >= 0", "value": 4.5}
          ],
          "value": 5
        }
      }
    }
  ],
  "config": {
    "font": "DejaVu Sans",
    "view": {"stroke": "#8f8f8f", "strokeWidth": 3, "fill": "white"}
  }
}
